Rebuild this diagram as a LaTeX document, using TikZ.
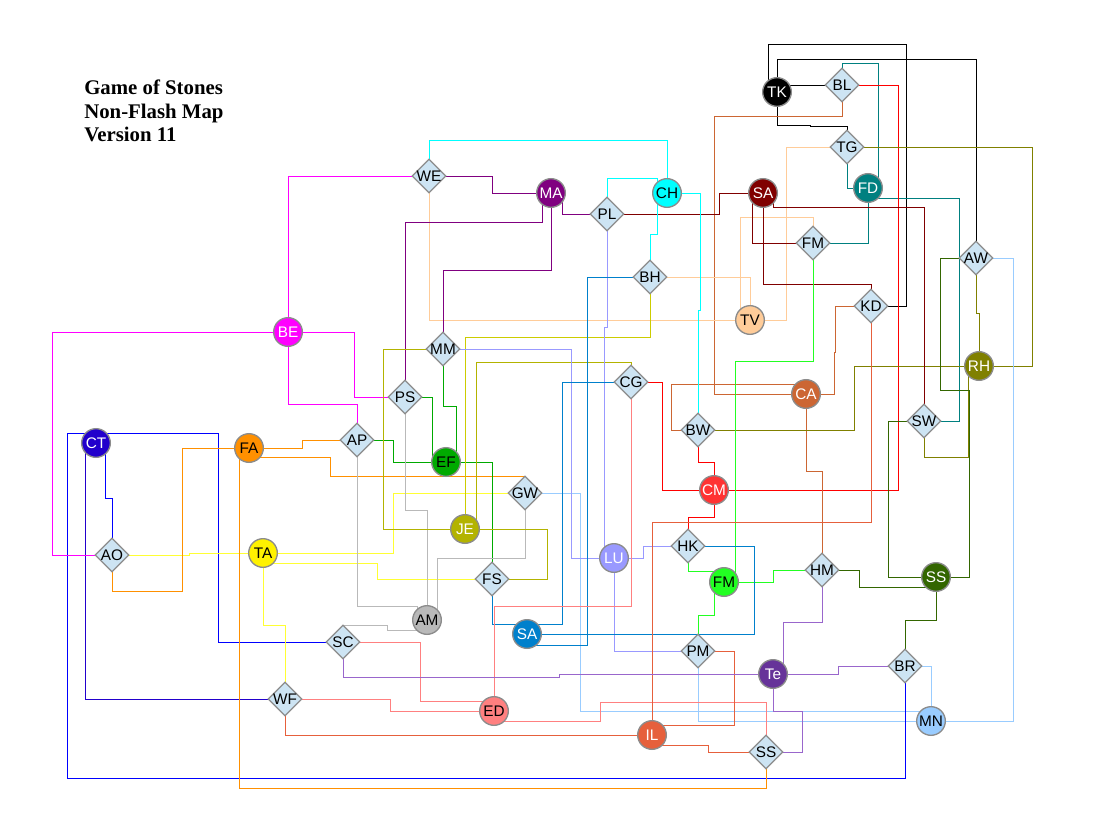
\documentclass[tikz,border=0pt]{standalone}
\usepackage{fontspec}
\setmainfont{Liberation Sans}
\newfontfamily\titlefont{Liberation Serif}
\usetikzlibrary{shapes.geometric,backgrounds}
\definecolor{cBE}{HTML}{FF00FF}\definecolor{cCT}{HTML}{2200CC}\definecolor{cBlue}{HTML}{0000FF}
\definecolor{cFA}{HTML}{FF9000}\definecolor{cTA}{HTML}{FFFF33}\definecolor{cEF}{HTML}{00AA00}
\definecolor{cJE}{HTML}{B3B300}\definecolor{cBH}{HTML}{CCCC00}\definecolor{cAM}{HTML}{B9B9B9}\definecolor{cSAb}{HTML}{0080CC}
\definecolor{cED}{HTML}{FF8080}\definecolor{cIL}{HTML}{E6603C}\definecolor{cLU}{HTML}{9999FF}
\definecolor{cFM}{HTML}{22FF22}\definecolor{cCM}{HTML}{FF3333}\definecolor{cRed}{HTML}{FF0000}\definecolor{cCA}{HTML}{CC6633}
\definecolor{cSAa}{HTML}{800000}\definecolor{cMA}{HTML}{800080}\definecolor{cCH}{HTML}{00FFFF}
\definecolor{cFD}{HTML}{008080}\definecolor{cTV}{HTML}{FFCC99}\definecolor{cRH}{HTML}{808000}
\definecolor{cSS}{HTML}{336600}\definecolor{cTe}{HTML}{9966CC}\definecolor{cTefill}{HTML}{663399}\definecolor{cMN}{HTML}{99CCFF}
\definecolor{gateblue}{HTML}{CDE4F3}\definecolor{rimgray}{HTML}{8C8C8C}
\newcommand\tx[1]{\smash{\makebox[0pt]{\raisebox{-.36em}{#1}}}}
\tikzset{
  x=0.75pt,y=-0.75pt,
  stone/.style={circle,draw=rimgray,line width=1pt,minimum size=21.5pt,inner sep=0pt,fill=#1,font=\fontsize{11.5}{13}\selectfont},
  gate/.style={diamond,draw=rimgray,line width=0.9pt,minimum size=25.5pt,inner sep=0pt,fill=gateblue,font=\fontsize{11.5}{13}\selectfont},
  lnk/.style={draw=#1,line width=0.65pt,line join=miter},
  titletext/.style={anchor=base west,inner sep=0pt,font=\titlefont\bfseries\fontsize{15.6}{18}\selectfont}
}
\begin{document}
\begin{tikzpicture}
\useasboundingbox (0,0) rectangle (1096,838);
% title
\node[titletext] (t1) at (84,94.5) {Game of Stones};
\node[titletext] (t2) at (84,118.5) {Non-Flash Map};
\node[titletext] (t3) at (84,142) {Version 11};
% stones
\node[stone=black,text=white] (TK) at (777,92) {\tx{TK}};
\node[stone=cFD,text=white] (FD) at (868,188) {\tx{FD}};
\node[stone=cSAa,text=white] (SAa) at (763,193) {\tx{SA}};
\node[stone=cTV] (TV) at (750,320) {\tx{TV}};
\node[stone=cCH] (CH) at (667,193) {\tx{CH}};
\node[stone=cMA,text=white] (MA) at (551,193) {\tx{MA}};
\node[stone=cBE,text=white] (BE) at (288,332) {\tx{BE}};
\node[stone=cCT,text=white] (CT) at (96,443) {\tx{CT}};
\node[stone=cFA] (FA) at (249,448) {\tx{FA}};
\node[stone=yellow] (TA) at (263,553) {\tx{TA}};
\node[stone=cEF] (EF) at (446,462) {\tx{EF}};
\node[stone=cJE,text=white] (JE) at (465,529) {\tx{JE}};
\node[stone=cAM] (AM) at (427,620) {\tx{AM}};
\node[stone=cSAb,text=white] (SAb) at (527,634) {\tx{SA}};
\node[stone=cED] (ED) at (494,711) {\tx{ED}};
\node[stone=cIL,text=white] (IL) at (652,735) {\tx{IL}};
\node[stone=cLU,text=white] (LU) at (614,558) {\tx{LU}};
\node[stone=cFM] (FMb) at (724,582) {\tx{FM}};
\node[stone=cCM,text=white] (CM) at (714,490) {\tx{CM}};
\node[stone=cCA,text=white] (CA) at (806,394) {\tx{CA}};
\node[stone=cRH,text=white] (RH) at (979,366) {\tx{RH}};
\node[stone=cSS,text=white] (SSa) at (936,577) {\tx{SS}};
\node[stone=cTefill,text=white] (Te) at (773,674) {\tx{Te}};
\node[stone=cMN] (MN) at (931,721) {\tx{MN}};
% gates
\node[gate] (BL) at (842,85) {\tx{BL}};
\node[gate] (TG) at (847,147) {\tx{TG}};
\node[gate] (FMa) at (813,243) {\tx{FM}};
\node[gate] (AW) at (976,258) {\tx{AW}};
\node[gate] (KD) at (871,306) {\tx{KD}};
\node[gate] (WE) at (429,176) {\tx{WE}};
\node[gate] (PL) at (607,214) {\tx{PL}};
\node[gate] (BH) at (650,277) {\tx{BH}};
\node[gate] (MM) at (443,349) {\tx{MM}};
\node[gate] (PS) at (405,397) {\tx{PS}};
\node[gate] (CG) at (631,382) {\tx{CG}};
\node[gate] (AP) at (357,440) {\tx{AP}};
\node[gate] (AO) at (112,555) {\tx{AO}};
\node[gate] (GW) at (525,493) {\tx{GW}};
\node[gate] (FS) at (492,579) {\tx{FS}};
\node[gate] (BW) at (698,430) {\tx{BW}};
\node[gate] (SW) at (924,421) {\tx{SW}};
\node[gate] (HK) at (688,546) {\tx{HK}};
\node[gate] (HM) at (822,570) {\tx{HM}};
\node[gate] (SC) at (343,642) {\tx{SC}};
\node[gate] (PM) at (698,651) {\tx{PM}};
\node[gate] (BR) at (905,666) {\tx{BR}};
\node[gate] (WF) at (285,699) {\tx{WF}};
\node[gate] (SSb) at (766,752) {\tx{SS}};
\begin{scope}[on background layer]
% TK black
\draw[lnk=black] (KD.center) -- (906,306) -- (906,44) -- (768,44) -- (768,92) -- (TK.center);
\draw[lnk=black] (TK.center) -- (777,59) -- (976,59) -- (AW.center);
\draw[lnk=black] (TK.center) -- (777,85) -- (BL.center);
\draw[lnk=black] (TK.center) -- (777,125) -- (810,125) -- (810,126) -- (847,126) -- (TG.center);
% FD teal
\draw[lnk=cFD] (BL.center) -- (842,63) -- (878,63) -- (878,188) -- (FD.center);
\draw[lnk=cFD] (TG.center) -- (847,188) -- (FD.center);
\draw[lnk=cFD] (FD.center) -- (868,243) -- (FMa.center);
\draw[lnk=cFD] (FD.center) -- (868,198) -- (959,198) -- (959,421) -- (SW.center);
% red
\draw[lnk=cRed] (BL.center) -- (898,85) -- (898,490) -- (CM.center);
\draw[lnk=cRed] (CG.center) -- (662,382) -- (662,490) -- (CM.center);
\draw[lnk=cRed] (BW.center) -- (698,462) -- (714,462) -- (CM.center);
\draw[lnk=cRed] (CM.center) -- (714,517) -- (688,517) -- (HK.center);
% CA brown
\draw[lnk=cCA] (BL.center) -- (842,116) -- (714,116) -- (714,394) -- (CA.center);
\draw[lnk=cCA] (KD.center) -- (835,306) -- (835,352) -- (834,352) -- (834,394) -- (CA.center);
\draw[lnk=cCA] (CA.center) -- (806,384) -- (671,384) -- (671,430) -- (BW.center);
\draw[lnk=cCA] (CA.center) -- (806,471) -- (822,471) -- (HM.center);
% TV peach
\draw[lnk=cTV] (TG.center) -- (786,147) -- (786,320) -- (TV.center);
\draw[lnk=cTV] (FMa.center) -- (813,217) -- (740,217) -- (740,320) -- (TV.center);
\draw[lnk=cTV] (BH.center) -- (750,277) -- (TV.center);
\draw[lnk=cTV] (WE.center) -- (429,320) -- (TV.center);
% RH olive
\draw[lnk=cRH] (TG.center) -- (1032,147) -- (1032,366) -- (RH.center);
\draw[lnk=cRH] (AW.center) -- (976,313) -- (979,313) -- (RH.center);
\draw[lnk=cRH] (RH.center) -- (854,366) -- (854,430) -- (BW.center);
\draw[lnk=cRH] (RH.center) -- (968,366) -- (968,457) -- (924,457) -- (SW.center);
% SA dark red
\draw[lnk=cSAa] (SAa.center) -- (719,193) -- (719,214) -- (PL.center);
\draw[lnk=cSAa] (SAa.center) -- (773,193) -- (773,207) -- (924,207) -- (SW.center);
\draw[lnk=cSAa] (SAa.center) -- (752,193) -- (752,243) -- (FMa.center);
\draw[lnk=cSAa] (SAa.center) -- (763,284) -- (871,284) -- (KD.center);
% FM green
\draw[lnk=cFM] (FMa.center) -- (813,361) -- (735,361) -- (735,582) -- (FMb.center);
\draw[lnk=cFM] (HK.center) -- (688,571) -- (724,571) -- (FMb.center);
\draw[lnk=cFM] (FMb.center) -- (773,582) -- (773,570) -- (HM.center);
\draw[lnk=cFM] (FMb.center) -- (714,582) -- (714,615) -- (698,615) -- (PM.center);
% SS dark green
\draw[lnk=cSS] (AW.center) -- (940,258) -- (940,390) -- (969,390) -- (969,577) -- (SSa.center);
\draw[lnk=cSS] (SW.center) -- (888,421) -- (888,577) -- (SSa.center);
\draw[lnk=cSS] (SSa.center) -- (936,587) -- (859,587) -- (859,570) -- (HM.center);
\draw[lnk=cSS] (SSa.center) -- (936,620) -- (905,620) -- (BR.center);
% MN light blue
\draw[lnk=cMN] (AW.center) -- (1013,258) -- (1013,721) -- (MN.center);
\draw[lnk=cMN] (BR.center) -- (931,666) -- (MN.center);
\draw[lnk=cMN] (GW.center) -- (580,493) -- (580,711) -- (931,711) -- (MN.center);
\draw[lnk=cMN] (PM.center) -- (698,721) -- (MN.center);
% blue
\draw[lnk=cBlue] (BR.center) -- (905,778) -- (67,778) -- (67,433) -- (96,433) -- (CT.center);
\draw[lnk=cBlue] (CT.center) -- (96,433) -- (218,433) -- (218,642) -- (SC.center);
\draw[lnk=cCT] (CT.center) -- (85,443) -- (85,699) -- (WF.center);
\draw[lnk=cBlue] (CT.center) -- (105,443) -- (105,498) -- (112,498) -- (AO.center);
% magenta
\draw[lnk=cBE] (BE.center) -- (52,332) -- (52,555) -- (AO.center);
\draw[lnk=cBE] (BE.center) -- (354,332) -- (354,397) -- (PS.center);
\draw[lnk=cBE] (BE.center) -- (288,404) -- (357,404) -- (AP.center);
\draw[lnk=cBE] (BE.center) -- (288,176) -- (WE.center);
% yellow
\draw[lnk=cTA] (AO.center) -- (189,555) -- (189,553) -- (TA.center);
\draw[lnk=cTA] (TA.center) -- (393,553) -- (393,493) -- (GW.center);
\draw[lnk=cTA] (TA.center) -- (263,563) -- (377,563) -- (377,579) -- (FS.center);
\draw[lnk=cTA] (TA.center) -- (263,625) -- (285,625) -- (WF.center);
% orange
\draw[lnk=cFA] (AO.center) -- (112,591) -- (182,591) -- (182,448) -- (FA.center);
\draw[lnk=cFA] (FA.center) -- (239,448) -- (239,788) -- (766,788) -- (SSb.center);
\draw[lnk=cFA] (FA.center) -- (302,448) -- (302,440) -- (AP.center);
\draw[lnk=cFA] (FA.center) -- (249,457) -- (330,457) -- (330,476) -- (525,476) -- (GW.center);
% green
\draw[lnk=cEF] (AP.center) -- (393,440) -- (393,462) -- (EF.center);
\draw[lnk=cEF] (PS.center) -- (432,397) -- (432,462) -- (EF.center);
\draw[lnk=cEF] (MM.center) -- (443,406) -- (456,406) -- (456,462) -- (EF.center);
\draw[lnk=cEF] (EF.center) -- (492,462) -- (FS.center);
% gray
\draw[lnk=cAM] (AP.center) -- (357,606) -- (417,606) -- (417,620) -- (AM.center);
\draw[lnk=cAM] (PS.center) -- (405,510) -- (427,510) -- (AM.center);
\draw[lnk=cAM] (GW.center) -- (525,558) -- (437,558) -- (437,620) -- (AM.center);
\draw[lnk=cAM] (AM.center) -- (427,630) -- (387,630) -- (387,625) -- (343,625) -- (SC.center);
% purple
\draw[lnk=cMA] (WE.center) -- (492,176) -- (492,193) -- (MA.center);
\draw[lnk=cMA] (PS.center) -- (405,222) -- (542,222) -- (542,193) -- (MA.center);
\draw[lnk=cMA] (MM.center) -- (443,270) -- (551,270) -- (MA.center);
\draw[lnk=cMA] (MA.center) -- (562,193) -- (562,214) -- (PL.center);
% cyan
\draw[lnk=cCH] (PL.center) -- (607,178) -- (657,178) -- (657,234) -- (650,234) -- (BH.center);
\draw[lnk=cCH] (CH.center) -- (667,140) -- (429,140) -- (WE.center);
\draw[lnk=cCH] (CH.center) -- (700,193) -- (700,310) -- (698,310) -- (BW.center);
% JE olive yellow
\draw[lnk=cJE] (MM.center) -- (383,349) -- (383,529) -- (JE.center);
\draw[lnk=cBH] (JE.center) -- (465,337) -- (650,337) -- (BH.center);
\draw[lnk=cJE] (JE.center) -- (476,529) -- (476,362) -- (631,362) -- (CG.center);
\draw[lnk=cJE] (JE.center) -- (547,529) -- (547,579) -- (FS.center);
% lavender
\draw[lnk=cLU] (MM.center) -- (571,349) -- (571,558) -- (LU.center);
\draw[lnk=cLU] (PL.center) -- (607,327) -- (604,327) -- (604,558) -- (LU.center);
\draw[lnk=cLU] (LU.center) -- (643,558) -- (643,546) -- (HK.center);
\draw[lnk=cLU] (LU.center) -- (614,651) -- (PM.center);
% SA blue
\draw[lnk=cSAb] (FS.center) -- (492,624) -- (562,624) -- (562,382) -- (CG.center);
\draw[lnk=cSAb] (SAb.center) -- (754,634) -- (754,546) -- (HK.center);
\draw[lnk=cSAb] (SAb.center) -- (527,645) -- (587,645) -- (587,277) -- (BH.center);
% pink
\draw[lnk=cED] (CG.center) -- (631,606) -- (494,606) -- (ED.center);
\draw[lnk=cED] (ED.center) -- (494,721) -- (600,721) -- (600,702) -- (766,702) -- (SSb.center);
\draw[lnk=cED] (ED.center) -- (494,701) -- (420,701) -- (420,642) -- (SC.center);
\draw[lnk=cED] (ED.center) -- (390,711) -- (390,699) -- (WF.center);
% IL red-orange
\draw[lnk=cIL] (IL.center) -- (652,522) -- (871,522) -- (KD.center);
\draw[lnk=cIL] (IL.center) -- (652,725) -- (734,725) -- (734,651) -- (PM.center);
\draw[lnk=cIL] (IL.center) -- (285,735) -- (WF.center);
\draw[lnk=cIL] (IL.center) -- (652,745) -- (708,745) -- (708,752) -- (SSb.center);
% Te purple
\draw[lnk=cTe] (BR.center) -- (838,666) -- (838,674) -- (Te.center);
\draw[lnk=cTe] (SC.center) -- (343,677) -- (559,677) -- (559,674) -- (Te.center);
\draw[lnk=cTe] (Te.center) -- (783,674) -- (783,622) -- (822,622) -- (HM.center);
\draw[lnk=cTe] (Te.center) -- (773,711) -- (802,711) -- (802,752) -- (SSb.center);
\end{scope}
\end{tikzpicture}
\end{document}
